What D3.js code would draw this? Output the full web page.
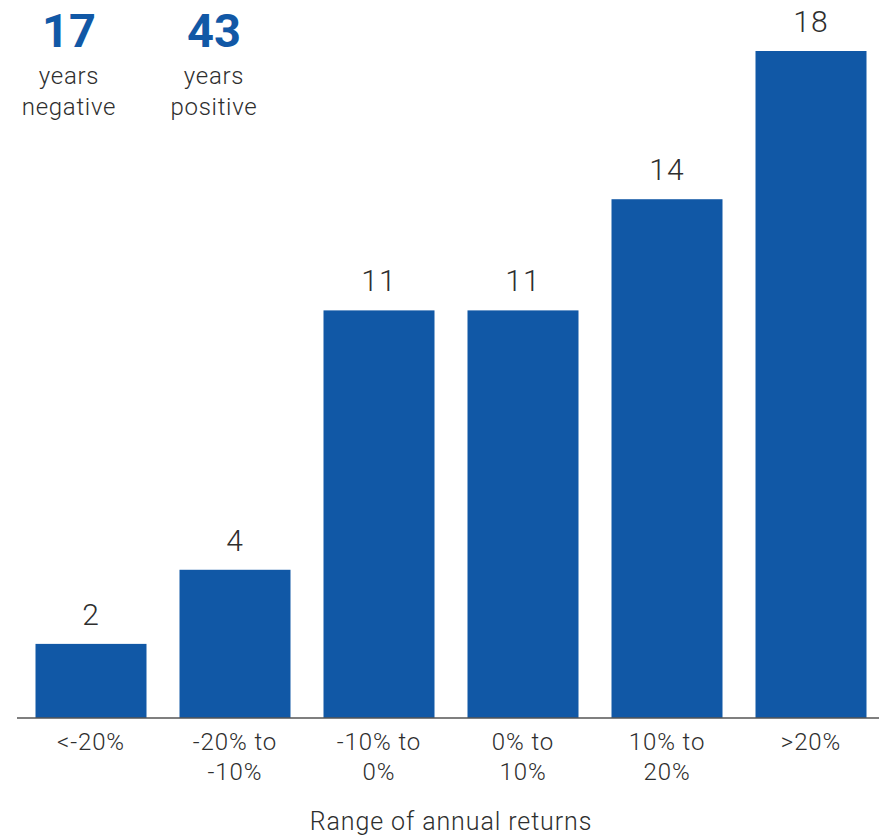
<!DOCTYPE html>
<html>
<head>
<meta charset="utf-8">
<script src="https://cdn.jsdelivr.net/npm/d3@7"></script>
<style>
  body { margin: 0; background: #fff; }
  text { font-family: Roboto, "DejaVu Sans", sans-serif; }
</style>
</head>
<body>
<div id="container"></div>
<script>
// data
const categories = ["<-20%", "-20% to -10%", "-10% to 0%", "0% to 10%", "10% to 20%", ">20%"];
const tickLines = [["<-20%"], ["-20% to", "-10%"], ["-10% to", "0%"], ["0% to", "10%"], ["10% to", "20%"], [">20%"]];
const years = [2, 4, 11, 11, 14, 18];
const summary = [
  {value: 17, line1: "years", line2: "negative"},
  {value: 43, line1: "years", line2: "positive"}
];

const width = 879, height = 835;
const blue = "#1158a6", ink = "#2e2e2e";

const svg = d3.select("#container").append("svg")
    .attr("width", width)
    .attr("height", height);

// SCALES
const xScale = d3.scaleBand()
    .domain(categories)
    .range([19, 883])
    .paddingInner(33 / 144)
    .paddingOuter(33 / 288);

const yScale = d3.scaleLinear()
    .domain([0, 18])
    .range([718, 51]);

// BARS
svg.selectAll(".bar")
  .data(years)
  .enter()
    .append("rect")
    .attr("class", "bar")
    .attr("x", (d, i) => xScale(categories[i]))
    .attr("y", d => yScale(d))
    .attr("width", xScale.bandwidth())
    .attr("height", d => yScale(0) - yScale(d))
    .attr("fill", blue);

// VALUE LABELS
svg.selectAll(".val")
  .data(years)
  .enter()
    .append("text")
    .attr("class", "val")
    .attr("x", (d, i) => xScale(categories[i]) + xScale.bandwidth() / 2)
    .attr("y", d => yScale(d) - 19)
    .attr("text-anchor", "middle")
    .attr("fill", ink)
    .style("font-size", "30px")
    .style("font-weight", 300)
    .style("letter-spacing", "1px")
    .text(d => d);

// AXIS
const xAxis = d3.axisBottom(xScale).tickSize(0).tickFormat("");
const axisG = svg.append("g")
    .attr("transform", `translate(0,${yScale(0)})`)
    .call(xAxis);
axisG.select(".domain").remove();
axisG.append("line")
    .attr("x1", 17).attr("x2", width)
    .attr("stroke", "#555").attr("stroke-width", 1.5);

axisG.selectAll(".tick").each(function(d, i) {
  const t = d3.select(this).append("text")
      .attr("text-anchor", "middle")
      .attr("fill", ink)
      .style("font-size", "24px")
      .style("font-weight", 300)
      .style("letter-spacing", "0.9px");
  tickLines[i].forEach((s, j) => {
    t.append("tspan").attr("x", 0).attr("y", 32 + j * 30).text(s);
  });
});

svg.append("text")
    .attr("x", 451)
    .attr("y", 830)
    .attr("text-anchor", "middle")
    .attr("fill", ink)
    .style("font-size", "25px")
    .style("font-weight", 300)
    .style("letter-spacing", "0.9px")
    .text("Range of annual returns");

// SUMMARY TOP-LEFT
const sumX = d3.scalePoint().domain([0, 1]).range([69, 214]);
const sg = svg.selectAll(".summary")
  .data(summary)
  .enter()
    .append("g")
    .attr("transform", (d, i) => `translate(${sumX(i)},0)`);

sg.append("text")
    .attr("y", 47)
    .attr("text-anchor", "middle")
    .attr("fill", blue)
    .style("font-size", "47px")
    .style("font-weight", 700)
    .text(d => d.value);
sg.append("text")
    .attr("y", 84)
    .attr("text-anchor", "middle")
    .attr("fill", ink)
    .style("font-size", "24px")
    .style("font-weight", 300)
    .style("letter-spacing", "0.7px")
    .text(d => d.line1);
sg.append("text")
    .attr("y", 115)
    .attr("text-anchor", "middle")
    .attr("fill", ink)
    .style("font-size", "24px")
    .style("font-weight", 300)
    .style("letter-spacing", "0.7px")
    .text(d => d.line2);
</script>
</body>
</html>
